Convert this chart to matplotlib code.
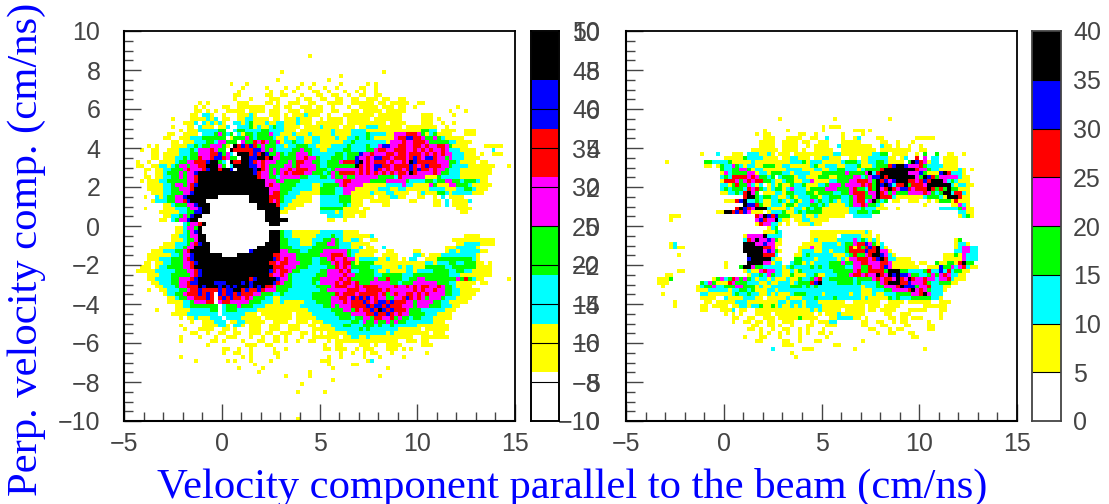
import numpy as np
import matplotlib
matplotlib.use("Agg")
import matplotlib.pyplot as plt
from matplotlib.colors import ListedColormap, BoundaryNorm

# colour band seen in each cell: 0 white, 1 yellow, 2 cyan, 3 green, 4 magenta, 5 red, 6 blue, 7 black
# one string per row from the top (0.2 cm/ns bins), blocks of ten columns, "-" = ten empty cells
left_rows = {
    6: "- - - - 0000000100",
    10: "- - - - 1000000000 - 0000001000",
    11: "- - - - - 0000010000",
    12: "- - - 0000000001 - 0010000000",
    13: "- - 0000000100 0100000000 0000010010 0000010000 0010100000",
    14: "- - - 1000001000 0100100100 0100100000 1100100000",
    15: "- - 0000000001 0000000100 1001000011 0010001001 0100100000",
    16: "- - 0000000011 0000001100 1100010001 1001100100 1100110000",
    17: "- - 0000000010 0010000111 0000101100 1100110011 0011101100 1100000000",
    18: "- 0000000001 0100000001 1100001101 0011100110 0011110011 1111011011 1110011000",
    19: "- 0000000010 1000011001 1111110011 0110011101 1001000100 1111101110 1100100000 0000010000",
    20: "- 0000000011 0101001111 1011110111 0011101111 1001100011 0111110111 1100000000 0001000100",
    21: "- 0000000110 2210010001 1121000111 0101112111 0010001111 1111011111 1000001110 0000100000",
    22: "- 0010000111 1212011001 1221111011 0111211100 1011110111 1110111111 1000001110 1000000000",
    23: "- 0000011120 2121210022 1231112112 2111211101 1111110111 1111111011 1100001110 0100100000",
    24: "- 0010001102 1110112002 2231211232 2111101111 2111101110 1122211111 1011111111 0010000000",
    25: "- 0000101112 2222330023 3222233222 2111011111 1112111122 2211111111 1111113322 0111100111",
    26: "- 0110011110 2223432302 1332333422 1112111211 1112111122 2232222114 4455543123 1111000111",
    27: "- 1100111222 3333330133 3432333321 1211221122 1111211223 2232111114 5566554334 3211111000",
    28: "- 0011011122 2332443330 4335454334 1223221122 1111112232 2222222144 4544555433 3332211110",
    29: "0000001010 0011112232 3344431075 6565343332 2122333221 1112222322 2232246644 5544554544 5543111100 0011111000",
    30: "0000100110 0111222324 4454330755 5556643432 2223343322 1122223322 2233455445 5544545454 4542221111 0000200000",
    31: "0000000110 1111222334 4455634207 7756576334 3233444322 2222332333 6445444554 5545554545 4544222111 0100111000",
    32: "0000000110 1112232335 4456654330 7766775744 3333445443 2223332336 4454665545 5545654665 4434222111 1000000000",
    33: "0001001001 1112334455 5677320755 7765454443 3343554433 2233345556 7454555454 4547655555 4443321111 0110000000",
    34: "0001100112 2123443445 5777430277 7766454333 3443544443 2233333337 5454665545 5556545655 5443222211 1111100010",
    35: "0000011011 2233345444 5677577607 7776754343 4454555443 3323444444 5454654545 5456565545 4432221111 1111000000",
    36: "0000010011 2333434467 7777777777 7776544343 4545554433 3234355554 5454545454 5547544445 4332221111 1111000000",
    37: "0000011011 2233434457 7777777777 7777544332 4444433222 3324334334 4444433332 5444444111 3222221111 1110000000",
    38: "0000101112 2333334457 7777777777 7777774443 4333322222 2222445544 4443333444 4432222332 3344332333 2110000000",
    39: "0000001111 2234434567 7777777777 7777774544 3333222211 2333345444 4111111222 2422111143 1114433321 1111000000",
    40: "0000001111 2233444577 7777777777 7777777444 3332222211 3333224441 1111122211 2211111122 2211122332 1110000000",
    41: "0000000111 2233344677 7777777777 7777777455 3322211111 3333224411 1112111221 1110012111 3321222221 1100000000",
    42: "0000010021 2334467777 7777000000 0077777555 3222111100 2222233311 1111011122 1100011001 0201111000",
    43: "0000000122 2334456777 7000000000 0077777545 3221111100 2222233311 1001111100 0001100001 1020111120",
    44: "0000000000 1123334467 7700000000 0000777775 2211110000 2222223211 1000001100 0000000001 1020111100",
    45: "0000010000 1112223446 7700000000 0000777777 2111000000 3333331111 0110000000 - 0000011110",
    46: "0000000001 1111223366 7700000000 0000007777 1100000000 2222121111 1100000000 - 0000001100",
    47: "- 1122343677 0000000000 0000007777 - 0022221110 1100000000",
    48: "0000000001 1023446770 0000000000 0000007777 7700000000 0011001000",
    49: "- 0000023445 7000000000 0000000777",
    50: "- 0001124437 0000000000 0000000000",
    51: "- 0001123467 0000000000 0000000777 3221111111 2222221111",
    52: "- 0011223447 7000000000 0000000777 3221111112 2223221111 1112000000 - 0000000111 1000000000",
    53: "- 0011123347 7000000000 0000000777 3322211122 2334321122 1001100000 - 0000111111 1111100000",
    54: "- 1112223456 7700000000 0000007777 3322211123 3344322211 1110000000 - 0000011222 2111100000",
    55: "0000000001 1112234477 7700000000 0000777777 3332222233 3333322211 2011002000 - 0011122222 1000000000",
    56: "0000000111 2223345777 7700000000 0067777777 4433322333 3444444322 1111100110 0000110000 0012212222 2110000000",
    57: "0000001111 1122344677 7777700007 7777777755 4444333333 4445554321 1111001111 0000221011 1222222222 1000000000",
    58: "0000001112 2233345677 7777777777 7777777765 4544333322 3345445441 2222211211 0102200111 3333333332 1000000000",
    59: "0000011011 2233344567 7777777777 7777777554 5544433322 3334545531 3333111111 1111111221 2223322333 1101000000",
    60: "0000111012 2333344577 7777777777 7777777755 5444333222 2233545433 3332221111 2122111333 3322333333 1111000000",
    61: "0001111122 2223334456 7777777777 7777777654 5543322222 3344454522 3333211211 1122122223 3332233221 1111000000",
    62: "0000001112 2233333456 7777777777 7777777544 5432222223 3344445443 3333223333 3222333333 3332221111 1111000000",
    63: "0000001122 2233444567 7777777777 7756777776 4432222233 4444454533 3333433533 3223344333 3333343532 1100000010",
    64: "0000000112 2233445667 7776667777 6767777765 4332222232 4444545545 3334444433 2333444444 3332211111 0110000000",
    65: "0000000011 2223445557 6777676767 7767675543 3332222223 3334555445 4555544445 4454545544 5433211110",
    66: "0000001001 1222334556 5555656677 5655654443 3322222222 3344444555 4455554544 4444545445 4433221111 1000000000",
    67: "- 1223345556 5650656656 5554433322 3222222233 3333545554 5555545345 4455454544 4433221111",
    68: "- 0112334455 5650565655 4543332211 2222222233 3334455465 6564544334 4565454344 4322211110",
    69: "- 0111122344 4550455444 4433322211 2111112223 3334445455 5654566565 5544344443 3221111100",
    70: "- 0001122333 3333023334 3332221111 1111122222 2334344455 5565665655 5444344433 3222110000",
    71: "0000000010 0001111222 2233023332 2222111111 1111111222 2223334435 4556576565 5543332222 2211100000",
    72: "- 0011112222 2222022222 2111011111 1110111122 2222333344 4455655654 5443333222 1111000000",
    73: "- 0000101121 1122202222 1111101111 1110111112 2222233323 3443554453 4332332221 1111000000",
    74: "- 0000000100 1112220112 2111110011 1100111011 1222222233 2433433434 3322222221 1100000000",
    75: "- 0000100000 1111221022 1011100111 0011100110 1112223322 2333232232 2222211111 1110000000",
    76: "- 0000010001 1110011010 0011100111 0011100011 1111222222 3232222222 1111110111 1110000000",
    77: "- 0000000110 0100110011 0011101100 1110011010 1011111222 2222222121 1111111101 1100000000",
    78: "- 0000100001 0001001110 0010010011 0100010011 1111101122 1121111111 1111001111 1110000000",
    79: "- 0000100000 0011010000 1000110011 0100100110 0010111111 1111111111 0011101100",
    80: "- - 0100000000 0111001100 0000000000 0100110000 1110100111 1000001110",
    81: "- - 0000011001 0010000010 0100000000 0110111001 0111000111 0101000000",
    82: "- - 0000010011 0010000011 - 0000010010 0101100010 0000000100",
    83: "- 0000100000 0000000000 1010000001 - 0010010000 0100010000 0100000000",
    84: "- 0000000010 0000001010 0010000100 0000000000 1110000000 0012000000",
    85: "- - - 0001000000 0000000000 0010000011 0000000000",
    86: "- - 0000000001 0000010000 - 0001000000 0000000100",
    87: "- - - 0000100000 0000000100",
    88: "- - - - 0100000100 - 0000010000",
    89: "- - - - - 0001000000",
    90: "- - - - 0000010000",
    92: "- - - - 0000100000 0100000000",
    99: "- - - - 0000100000",
}

right_rows = {
    22: "- - - 0000000001 - 0001000000 0000000100",
    24: "- - - - - 1011100000",
    25: "- - - 0000010000 0100000000 1000000011 1010000000",
    26: "- - - 0001011000 0000110010 0000010000 1000000000",
    27: "- - - 0000011100 0111100110 0200010012 0000110000 0000111110",
    28: "- - - 0000111100 1111011001 1100011111 0000011001 0001000000",
    29: "- - - 0000111100 1111001011 1100211111 1110021101 0010010000",
    30: "- - 0000000000 0011111110 1111010011 1110011111 1111011111 1110011000",
    31: "- 0000000001 0002000111 0222112101 1101111111 1112211111 1112233011 1100103003 0011001000",
    32: "- - 0000011111 3222211110 1122111011 2211100110 1122222110 1200504022 0111100000",
    33: "- 1000000000 3322223111 1121111111 1122231222 1111123332 1122332111 1037654122 0111100000",
    34: "- 0000000000 1101322432 1221133311 2211111231 1222112223 1112333567 7644453222 2111100000",
    35: "- 0000000000 0000322334 4312211111 1222211122 1122332221 2333357777 7777544322 1111121010",
    36: "- 0000000000 0000142333 3441221333 2212222111 3333334333 3472577777 7744463111 6752221000",
    37: "- - 0000232555 5454332302 3331221113 3311333344 2346675777 7777437653 4444421100",
    38: "- - 0000155543 4545533211 2331122411 1122333445 5543756467 7755456577 7423211100",
    39: "- - 0000221353 3421201213 1132231112 2344434444 5453767625 5735554777 7772122110",
    40: "- - 0000232333 2545321233 1242221333 3444333453 3253745754 6654555753 5373311100",
    41: "- - 0000112232 5743011122 1332223313 3332233455 5344754343 3344445432 3772552100",
    42: "- - - 5773233221 1231222331 2233322345 5334755521 1111112333 2177751100",
    43: "- - 0000011156 7223211223 2123122423 2232122345 5247323011 0011100101 3331511100",
    44: "- - - 7665311222 1331222332 3211112344 5433210000 0000001000 0001142100",
    45: "- - 0000000057 6547772111 1212213233 1111111222 3222111001 - 2222234110",
    46: "- - 0001177565 6411101222 3112323333 1111111223 3323300000 - 0000022110",
    47: "- 0111000000 - 0005476563 3311121121 1111110022 2220000000 - 0000012310",
    48: "- 0100000000 - 0004654472 1101122111 1100000000",
    49: "- - - 0001544221 0100111211",
    50: "- - - 0000001230",
    51: "- - - 0000011132 0000000111 1111111111 1210000000",
    52: "- - - 1444472222 0000000111 1111022222 1110100000",
    53: "- - 0000000000 2547446431 0000000121 1111222242 3212100000 - 0000130000",
    54: "- 0120000000 - 7774464411 0000011111 2222123345 5643120000 - 0000122100",
    55: "- 0121100000 - 7777755410 0000111411 2222223515 3565721000 - 0000124422",
    56: "- - - 7777746431 0000122211 2212223555 5655744100 - 0000224422",
    57: "- 0001000000 - 0777755520 0001123222 2221112353 3457764210 - 0111314222",
    58: "- - - 0677777211 0003322212 2222121445 5545675221 1110000000 0111114222",
    59: "- - 0000010000 0777744122 0023312122 2233343344 5544455411 1111011003 1133157330",
    60: "- - 0000010003 7743322222 1232222323 2233332244 3354456411 1111100111 6334245211",
    61: "- 0001100000 - 1211454422 1121322222 2223333345 3355553777 3322223522 6252331100",
    62: "- 1100000000 - 0122324322 1131112231 1222333455 4544754767 6643322343 4542211000",
    63: "0000000011 1300000000 0013423543 4321221211 1211322345 2233333323 3334545547 5475445442 4452111000",
    64: "0000000011 1000000003 2431115433 3222112112 2212333567 2222333323 2222345777 5564445322 3331100000",
    65: "0000000001 0000000012 3342233344 3331211222 2233323232 2222222222 1222334445 7666344522 2110000000",
    66: "- 0000000011 1222221223 3231112212 2222222222 2222222222 1112223344 4457454322 2100000000",
    67: "0000000001 0000000002 2111111232 2322112121 1123332222 1222222122 1112112223 3334457422 2000000000",
    68: "- 0000000001 1110021111 2221101111 1211122232 2223222222 1211111323 2223333322 1000000000",
    69: "- 0010000000 1101111122 2111111112 2122212221 1111110011 1111100111 1011111100 1110000000",
    70: "- 0010000001 1011110112 2122311312 1121212222 1111111111 1011101111 0000001111 1100000000",
    71: "- 0000000001 1000111201 1001111111 1111111212 1111101111 1011011110 0011111000 1100000000",
    72: "- - 0000010101 0001111011 1111111101 0111211111 1000001100 1110000000 1000000000",
    73: "- - 0000000110 0110011101 1111311110 0011222211 0100000110 1101110000 1000000000",
    74: "- - 0000000100 1101101100 1110000101 1122000000 1100110010 1100000100",
    75: "- - - 0011001101 0010001100 0111000000 1100011000 0110000110",
    76: "- - - 0110100100 1100101000 1000000000 0011000101 1000000110",
    77: "- - - 0000101001 0100101001 1010000000 0000100110 0011000000",
    78: "- - - 1000110001 0000100000 0100000000 0000000000 0001100000",
    79: "- - - 0001100000 1100100011 0000000000 1000000000",
    80: "- - - - 1110000000 0001100000",
    81: "- - - 0000000200 0000011100 0000000010 0000000000 0000001000",
    82: "- - - - 0010000000",
    83: "- - - - 0001000000",
}

left_levels = np.arange(0, 51, 5)
right_levels = np.arange(0, 41, 5)
perp_ticks = np.arange(-10, 11, 2)
band_colors = ["white", "#ffff00", "#00ffff", "#00ff00", "#ff00ff", "#ff0000", "#0000ff", "black"]

W, H = 1109, 504
TICK_GREY = "#444444"
plt.rcParams["font.family"] = ["Liberation Sans", "DejaVu Sans"]
plt.rcParams["axes.linewidth"] = 1.3


def axes_px(fig, x0, y0, x1, y1):
    return fig.add_axes([x0 / W, 1 - y1 / H, (x1 - x0) / W, (y1 - y0) / H])


def fill_grid(rows, band):
    grid = np.zeros((100, 100))
    for r, text in rows.items():
        for b, block in enumerate(text.split()):
            if block == "-":
                continue
            for i, c in enumerate(block):
                if c != "0":
                    grid[r, b * 10 + i] = (int(c) + 0.5) * band
    return grid


def draw_panel(ax, rows, top):
    band = top / 8
    x_edges = np.linspace(-5, 15, 101)
    y_edges = np.linspace(10, -10, 101)
    ax.pcolormesh(x_edges, y_edges, fill_grid(rows, band), cmap=ListedColormap(band_colors),
                  norm=BoundaryNorm(np.arange(9) * band, 8))
    ax.set_xlim(-5, 15)
    ax.set_ylim(-10, 10)
    ax.set_xticks([-5, 0, 5, 10, 15])
    ax.set_xticks(np.arange(-5, 16, 1), minor=True)
    ax.set_yticks(perp_ticks)
    ax.set_yticks(np.arange(-10, 10.5, 0.5), minor=True)
    ax.tick_params(which="major", direction="in", length=12, width=1, color=TICK_GREY,
                   labelsize=18, labelcolor=TICK_GREY)
    ax.tick_params(axis="x", which="major", pad=8)
    ax.tick_params(axis="y", which="major", pad=17)
    ax.tick_params(which="minor", direction="in", length=6.5, width=1, color=TICK_GREY)
    ax.spines["left"].set_linewidth(1.5)
    ax.spines["bottom"].set_linewidth(1.5)


def draw_bar(ax, top):
    band = top / 8
    edges = np.arange(9) * band
    ax.pcolormesh([0, 1], edges, (edges[:-1] + band / 2).reshape(-1, 1),
                  cmap=ListedColormap(band_colors), norm=BoundaryNorm(edges, 8))
    ax.set_xticks([])
    ax.set_ylim(0, top)
    for spine in ax.spines.values():
        spine.set_color(TICK_GREY)


fig = plt.figure(figsize=(W / 100, H / 100), dpi=100)

ax1 = axes_px(fig, 124, 31, 515, 421)
draw_panel(ax1, left_rows, 50)
ax1.set_yticklabels([str(v).replace("-", "\u2212") for v in perp_ticks])
ax1.set_xticklabels(["\u22125", "0", "5", "10", "15"])

ax2 = axes_px(fig, 626, 31, 1017, 421)
draw_panel(ax2, right_rows, 40)
ax2.set_yticklabels([])
ax2.set_xticklabels(["\u22125", "0", "5", "10", "15"])

# left colour scale carries two sets of labels printed over each other
bar1 = axes_px(fig, 531, 31, 559, 421)
draw_bar(bar1, 50)
bar1.hlines(left_levels[1:-1], 0, 1, color="black", lw=0.8)
bar1b = bar1.twinx()
bar1.yaxis.tick_right()
bar1.set_yticks(left_levels)
bar1.set_yticklabels([str(v) for v in left_levels], ha="right")
bar1.tick_params(axis="y", length=0, labelsize=18, labelcolor=TICK_GREY, pad=29.5)
bar1b.set_ylim(-10, 10)
bar1b.set_yticks(perp_ticks)
bar1b.set_yticklabels([str(v).replace("-", "\u2212") for v in perp_ticks], ha="right")
bar1b.tick_params(axis="y", length=0, labelsize=18, labelcolor=TICK_GREY, pad=29.5)

bar2 = axes_px(fig, 1032, 31, 1061, 421)
draw_bar(bar2, 40)
bar2.hlines(right_levels[1:-1], 0, 1, color="black", lw=0.8)
bar2.yaxis.tick_right()
bar2.set_yticks(right_levels)
bar2.tick_params(axis="y", length=0, labelsize=18, labelcolor=TICK_GREY, pad=8.6)

fig.text(572 / W, 1 - 487 / H, "Velocity component parallel to the beam (cm/ns)", color="#0000ff",
         family="Liberation Serif", fontsize=30.7, ha="center", va="center")
fig.text(27 / W, 1 - 249 / H, "Perp. velocity comp. (cm/ns)", color="#0000ff",
         family="Liberation Serif", fontsize=30.7, rotation=90, ha="center", va="center")

fig.savefig("out.png", dpi=100)
